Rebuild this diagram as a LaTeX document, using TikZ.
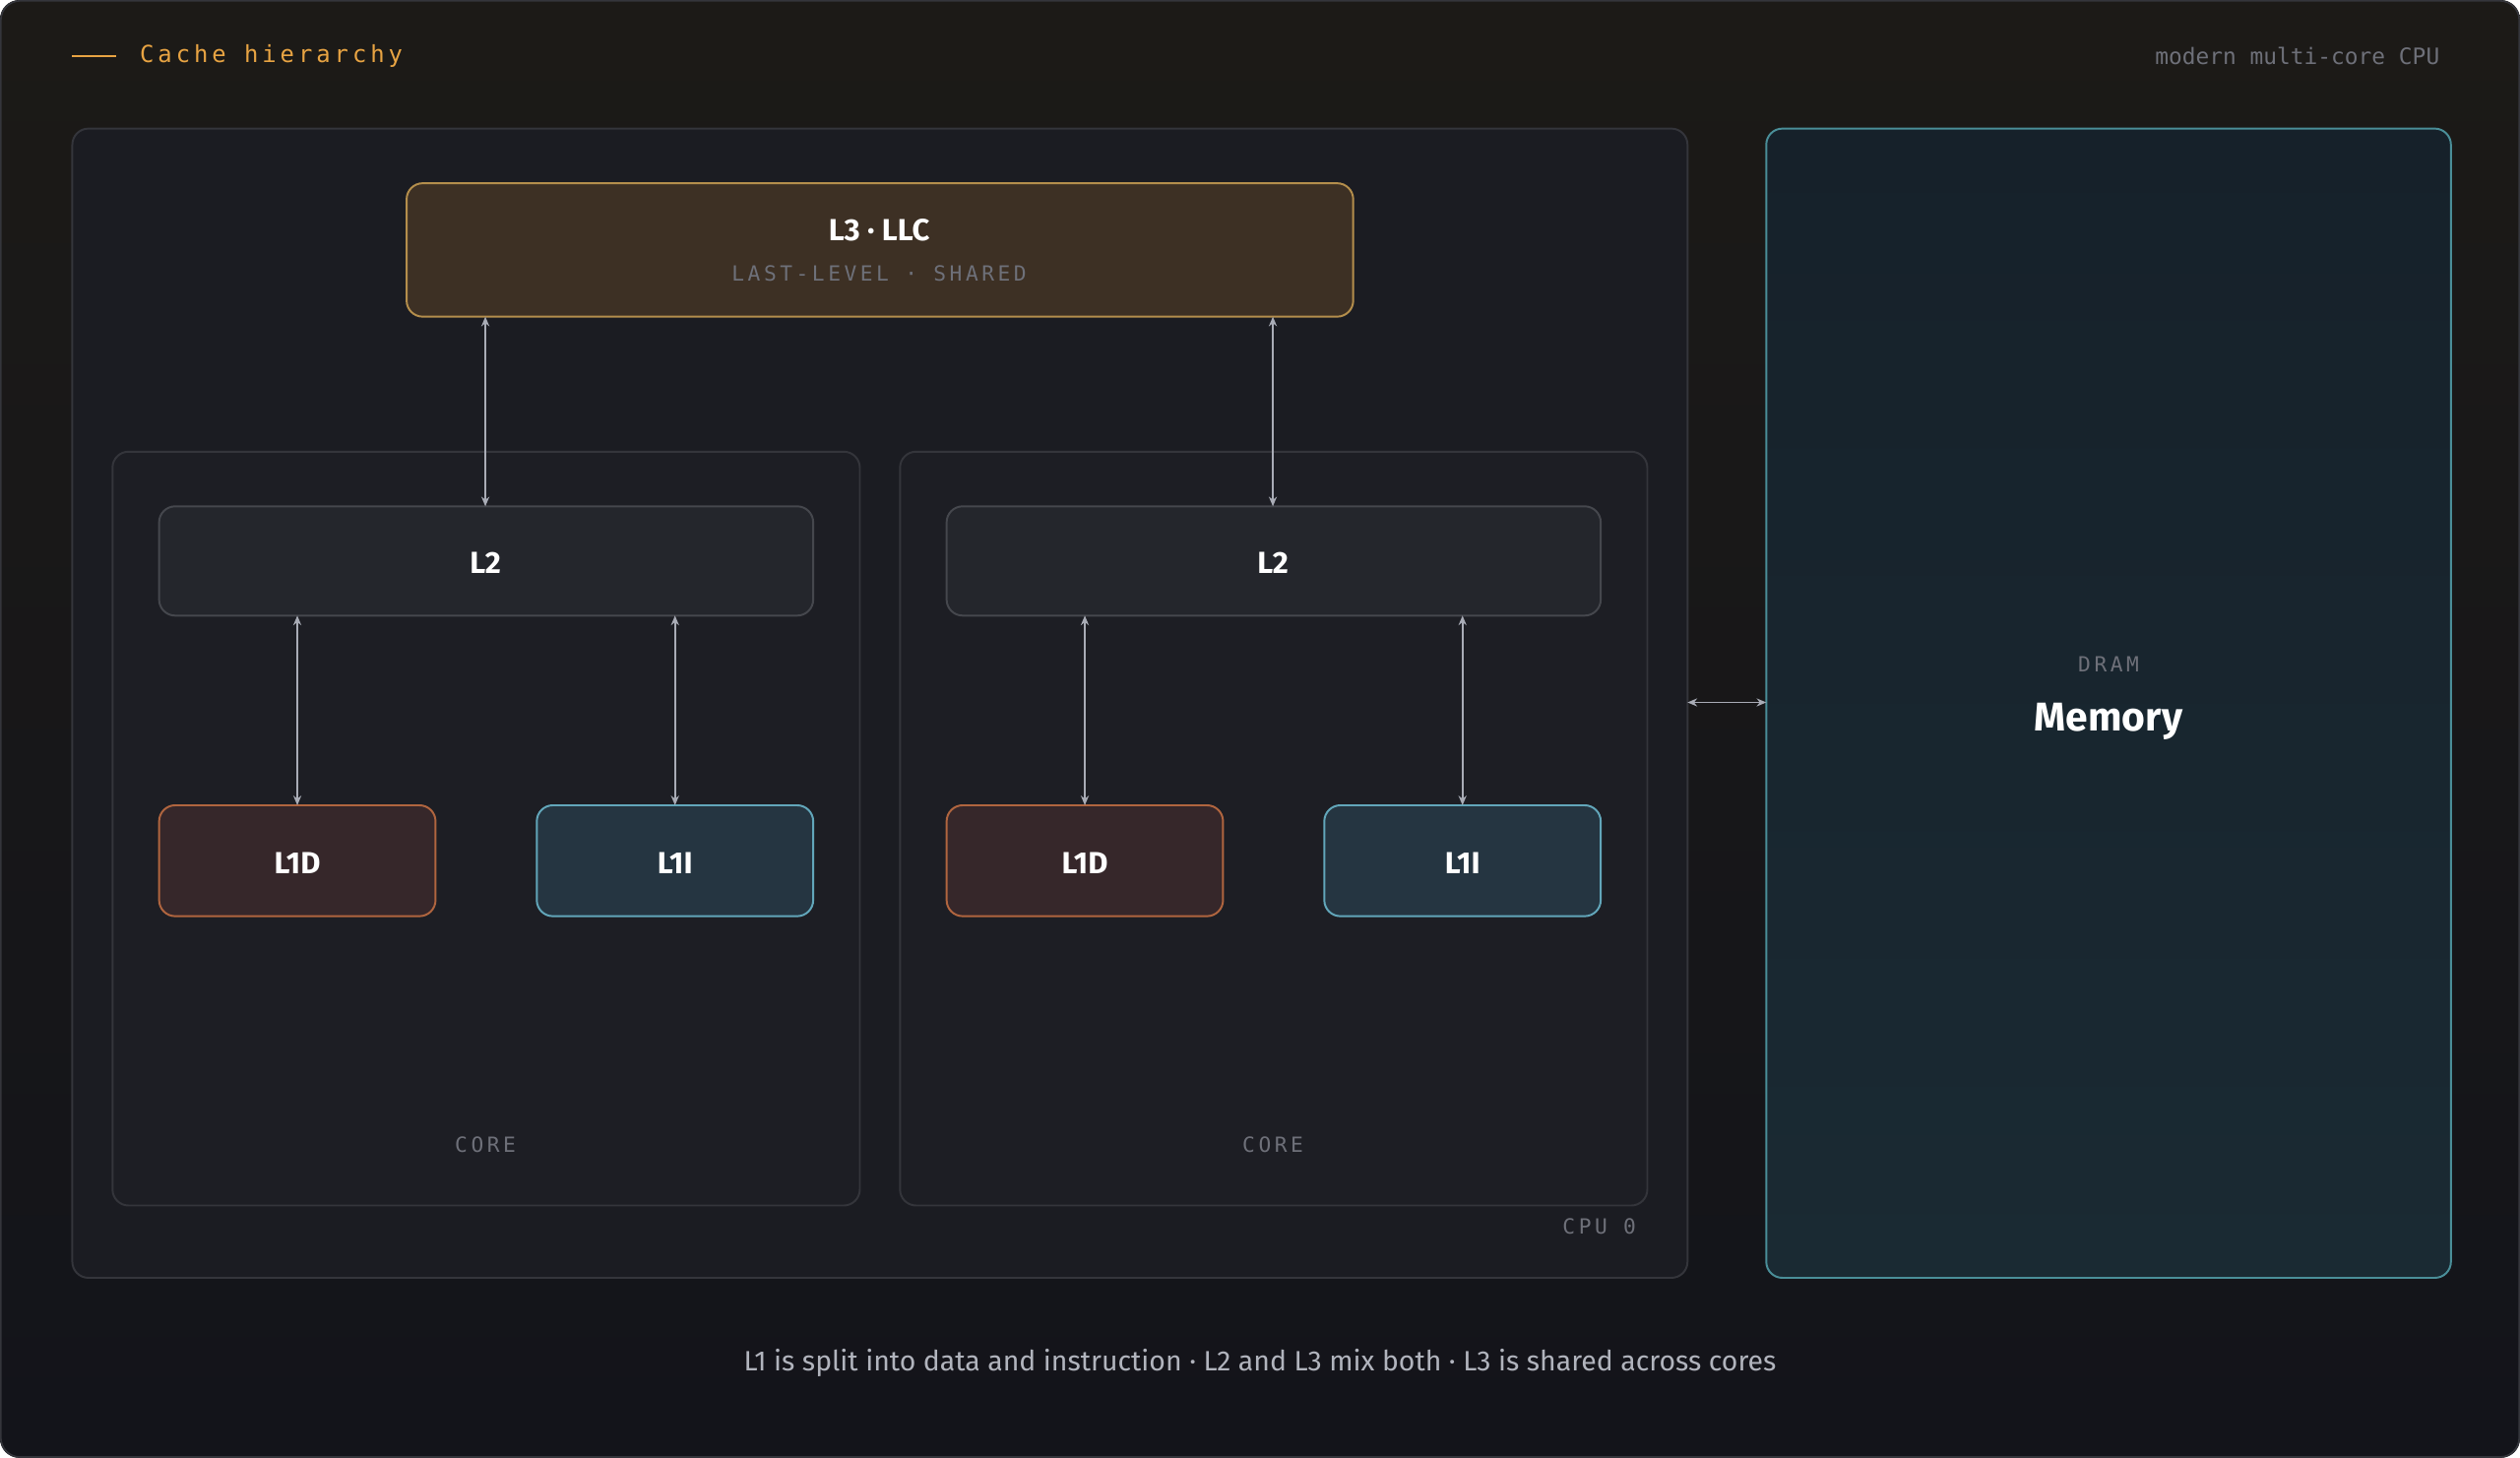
\documentclass[tikz,border=0pt]{standalone}
\usepackage{fontspec}
\setmainfont{Fira Sans}
\newfontfamily\monof{DejaVu Sans Mono}
\usetikzlibrary{arrows.meta}
\definecolor{bgA}{HTML}{13141A}
\definecolor{bgB}{HTML}{1C1A17}
\definecolor{cpuF}{HTML}{1B1C22}
\definecolor{cpuD}{HTML}{34353B}
\definecolor{coreF}{HTML}{1D1E24}
\definecolor{l3F}{HTML}{3D3024}
\definecolor{l3D}{HTML}{B48E4C}
\definecolor{l2F}{HTML}{24262C}
\definecolor{l2D}{HTML}{45474D}
\definecolor{ldF}{HTML}{36272A}
\definecolor{ldD}{HTML}{B0653F}
\definecolor{liF}{HTML}{253541}
\definecolor{liD}{HTML}{62A6BA}
\definecolor{memF}{HTML}{16212A}
\definecolor{memG}{HTML}{1A2A33}
\definecolor{memD}{HTML}{4A8E98}
\definecolor{grayT}{HTML}{6E7079}
\definecolor{arr}{HTML}{A9ACB6}
\definecolor{orng}{HTML}{E8A443}
\begin{document}
\begin{tikzpicture}[x=0.5pt,y=-0.5pt,
 box/.style={rounded corners=5pt,line width=0.6pt},
 lab/.style={text=white,font=\fontsize{9.5}{11}\selectfont\fontseries{sb}\selectfont},
 mono/.style={text=grayT,font=\monof\fontsize{6.5}{8}\selectfont},
 ar/.style={draw=arr,line width=0.6pt,{Stealth[length=3pt,width=2.5pt]}-{Stealth[length=3pt,width=2.5pt]}}]
\useasboundingbox (0,0) rectangle (1568,907);
\shade[top color=bgB,bottom color=bgA,rounded corners=6pt] (0,0) rectangle (1568,907);
\draw[draw=cpuD,line width=0.5pt,rounded corners=6pt] (0.5,0.5) rectangle (1567.5,906.5);
% header
\draw[orng,line width=0.6pt] (45,35) -- (72,35);
\node[anchor=west,text=orng,font=\monof\fontsize{7.3}{9}\selectfont] (title) at (80,35) {C\,a\,c\,h\,e\,\ h\,i\,e\,r\,a\,r\,c\,h\,y};
\node[anchor=east,mono,font=\monof\fontsize{7}{9}\selectfont] (sub) at (1525,35) {modern multi-core CPU};
% cpu
\draw[box,fill=cpuF,draw=cpuD] (45,80) rectangle (1050,795);
\coordinate (cpuR) at (1050,437);
\node[mono,anchor=east] (cpu0) at (1025,763) {C\,P\,U\,\ 0};
% L3
\draw[box,fill=l3F,draw=l3D] (253,114) rectangle (842,197);
\node[lab] (l3) at (547,143) {L3 · LLC};
\node[mono] (l3s) at (547,170) {L\,A\,S\,T\,-\,L\,E\,V\,E\,L\,\ ·\,\ S\,H\,A\,R\,E\,D};
\foreach \o/\n in {0/a,490/b}{
 \draw[box,fill=coreF,draw=cpuD] (70+\o,281) rectangle (535+\o,750);
 \node[mono] (core\n) at (302+\o,712) {C\,O\,R\,E};
 \draw[box,fill=l2F,draw=l2D] (99+\o,315) rectangle (506+\o,383);
 \node[lab] (l2\n) at (302+\o,350) {L2};
 \draw[box,fill=ldF,draw=ldD] (99+\o,501) rectangle (271+\o,570);
 \node[lab] (ld\n) at (185+\o,537) {L1D};
 \draw[box,fill=liF,draw=liD] (334+\o,501) rectangle (506+\o,570);
 \node[lab] (li\n) at (420+\o,537) {L1I};
 \coordinate (l3b\n) at (302+\o,197);
 \coordinate (l2t\n) at (302+\o,315);
 \draw[ar] (l3b\n) -- (l2t\n);
 \coordinate (d1\n) at (185+\o,383); \coordinate (d2\n) at (185+\o,501);
 \coordinate (i1\n) at (420+\o,383); \coordinate (i2\n) at (420+\o,501);
 \draw[ar] (d1\n) -- (d2\n);
 \draw[ar] (i1\n) -- (i2\n);
}
% memory
\shade[box,top color=memF,bottom color=memG] (1099,80) rectangle (1525,795);
\draw[box,draw=memD] (1099,80) rectangle (1525,795);
\coordinate (memL) at (1099,437);
\node[mono] (dram) at (1312,413) {D\,R\,A\,M};
\node[text=white,font=\fontsize{12.5}{14}\selectfont\fontseries{sb}\selectfont] (mem) at (1312,449) {Memory};
\draw[ar] (cpuR) -- (memL);
% footer
\node[text=arr!90,font=\fontsize{8.7}{10}\selectfont] (foot) at (784,848) {L1 is split into data and instruction · L2 and L3 mix both · L3 is shared across cores};
\end{tikzpicture}
\end{document}
